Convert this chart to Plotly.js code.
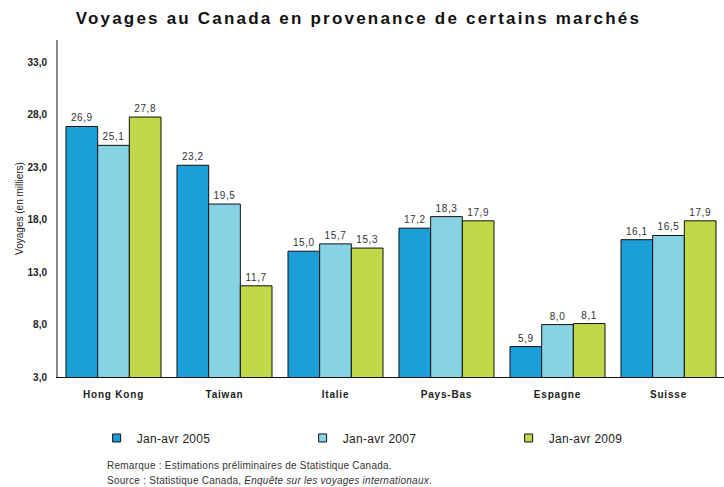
<!DOCTYPE html>
<html>
<head>
<meta charset="utf-8">
<script src="https://cdn.plot.ly/plotly-3.0.1.min.js"></script>
<style>
html,body{margin:0;padding:0;background:#fff;}
.gtitle{letter-spacing:2.2px;}
.xtick text{letter-spacing:0.8px;}
.annotation-text{letter-spacing:0.25px;}
.legendtext{letter-spacing:0.3px;}
.bartext{letter-spacing:0.6px;}
</style>
</head>
<body>
<div id="chart" style="width:724px;height:487px;"></div>
<script>
const categories = ["Hong Kong", "Taiwan", "Italie", "Pays-Bas", "Espagne", "Suisse"];
const seriesNames = ["Jan-avr 2005", "Jan-avr 2007", "Jan-avr 2009"];
const values2005 = [26.9, 23.2, 15.0, 17.2, 5.9, 16.1];
const values2007 = [25.1, 19.5, 15.7, 18.3, 8.0, 16.5];
const values2009 = [27.8, 11.7, 15.3, 17.9, 8.1, 17.9];
const yTicks = [3, 8, 13, 18, 23, 28, 33];
const colors = ["#1a9fd9", "#87d3e6", "#c0d84a"];
const allValues = [values2005, values2007, values2009];

const barTraces = allValues.map((vals, i) => ({
  type: "bar",
  name: seriesNames[i],
  x: categories,
  y: vals,
  marker: {color: colors[i], line: {color: "#111", width: 1}},
  texttemplate: "%{y:.1f}",
  textposition: "outside",
  textfont: {family: "Liberation Sans, Arial, sans-serif", size: 10, color: "#333"},
  cliponaxis: false,
  showlegend: false,
  hoverinfo: "none"
}));

// legend keys (small squares like the reference)
const legendTraces = seriesNames.map((name, i) => ({
  type: "scatter",
  mode: "markers",
  name: name,
  x: [null], y: [null],
  marker: {symbol: "square", size: 8, color: colors[i], line: {color: "#111", width: 1}},
  showlegend: true,
  hoverinfo: "none"
}));

const layout = {
  width: 724, height: 487,
  margin: {l: 58, r: 0, t: 40, b: 110},
  separators: ", ",
  paper_bgcolor: "#fff", plot_bgcolor: "#fff",
  font: {family: "Liberation Sans, Arial, sans-serif", color: "#222"},
  title: {
    text: "<b>Voyages au Canada en provenance de certains marchés</b>",
    font: {size: 17, color: "#111"},
    x: 0.495, xref: "container", xanchor: "center", y: 0.963, yanchor: "middle"
  },
  barmode: "group",
  bargap: 0.144,
  bargroupgap: 0,
  xaxis: {
    showline: true, linecolor: "#111", linewidth: 1,
    ticks: "", showgrid: false,
    tickfont: {size: 10, color: "#222", weight: "bold"},
    ticklabelstandoff: 8,
    fixedrange: true
  },
  yaxis: {
    range: [3, 35.15],
    tickvals: yTicks,
    tickformat: ".1f",
    showline: true, linecolor: "#888", linewidth: 2,
    ticks: "", showgrid: false, zeroline: false,
    tickfont: {size: 10, color: "#222", weight: "bold"},
    ticklabelstandoff: 7,
    title: {text: "Voyages (en milliers)", font: {size: 10, color: "#222"}, standoff: 2},
    fixedrange: true
  },
  showlegend: true,
  legend: {
    orientation: "h",
    x: 0.058, xanchor: "left",
    y: -0.181, yanchor: "middle",
    entrywidth: 161, entrywidthmode: "pixels",
    itemwidth: 30,
    font: {size: 12, color: "#222"},
    traceorder: "normal"
  },
  annotations: [
    {
      text: "Remarque : Estimations préliminaires de Statistique Canada.",
      xref: "paper", yref: "paper", x: 0.071, y: -0.264,
      xanchor: "left", yanchor: "middle", showarrow: false,
      font: {size: 10, color: "#333"}
    },
    {
      text: "Source : Statistique Canada, <i>Enquête sur les voyages internationaux</i>.",
      xref: "paper", yref: "paper", x: 0.071, y: -0.306,
      xanchor: "left", yanchor: "middle", showarrow: false,
      font: {size: 10, color: "#333"}
    }
  ]
};

Plotly.newPlot("chart", barTraces.concat(legendTraces), layout, {displayModeBar: false, staticPlot: true});
</script>
</body>
</html>
